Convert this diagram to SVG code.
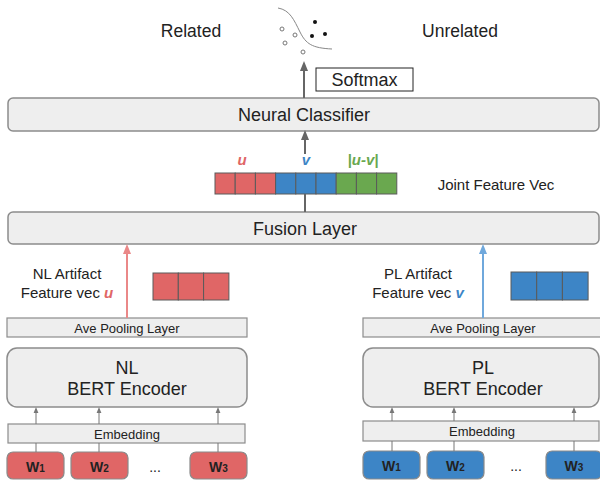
<svg xmlns="http://www.w3.org/2000/svg" width="600" height="485" viewBox="0 0 600 485">
<defs>
<style>
text{font-family:"Liberation Sans",Arial,sans-serif;fill:#222;}
.box{fill:#eeeeee;stroke:#8c8c8c;stroke-width:1.5;}
.thin{fill:#eeeeee;stroke:#8c8c8c;stroke-width:1.2;}
.t18{font-size:18px;text-anchor:middle;}
.t15{font-size:15px;text-anchor:middle;}
.t13{font-size:13px;text-anchor:middle;}
.red{fill:#e06666;stroke:#5a5a5a;stroke-width:1;}
.blue{fill:#3d85c6;stroke:#5a5a5a;stroke-width:1;}
.green{fill:#6aa84f;stroke:#5a5a5a;stroke-width:1;}
.wr{fill:#e06666;stroke:#8a8a8a;stroke-width:1.2;}
.wb{fill:#3d85c6;stroke:#8a8a8a;stroke-width:1.2;}
.w{font-size:14px;font-weight:bold;text-anchor:middle;fill:#222;}
.gray{stroke:#666;stroke-width:2;fill:none;}
.small{stroke:#777;stroke-width:1;fill:none;}
</style>
<marker id="ah" viewBox="0 0 10 10" refX="5" refY="5" markerWidth="5" markerHeight="5" orient="auto"><path d="M0,1 L10,5 L0,9 z" fill="#666"/></marker>
<marker id="ahs" viewBox="0 0 10 10" refX="5" refY="5" markerWidth="6" markerHeight="6" orient="auto"><path d="M0,1 L10,5 L0,9 z" fill="#777"/></marker>
<marker id="ahr" viewBox="0 0 10 10" refX="5" refY="5" markerWidth="5" markerHeight="5" orient="auto"><path d="M0,1 L10,5 L0,9 z" fill="#ea8888"/></marker>
<marker id="ahb" viewBox="0 0 10 10" refX="5" refY="5" markerWidth="5" markerHeight="5" orient="auto"><path d="M0,1 L10,5 L0,9 z" fill="#6fa8dc"/></marker>
</defs>
<rect width="600" height="485" fill="#ffffff"/>

<g id="output">
<text x="191" y="37" font-size="17.5" text-anchor="middle">Related</text>
<text x="460" y="37" font-size="17.5" text-anchor="middle">Unrelated</text>
<path d="M278,8 C290,10 294,20 300,32 C306,44 312,48 332,49" fill="none" stroke="#888" stroke-width="1"/>
<g fill="none" stroke="#777" stroke-width="1">
<circle cx="282" cy="29" r="2"/><circle cx="295" cy="35" r="2"/><circle cx="285" cy="43" r="2"/><circle cx="303" cy="52" r="2"/>
</g>
<g fill="#111">
<circle cx="315" cy="22" r="2"/><circle cx="312" cy="36" r="2"/><circle cx="325" cy="34" r="2"/>
</g>
</g>

<g id="softmax">
<rect x="316" y="68" width="97" height="23" fill="#fff" stroke="#222" stroke-width="1"/>
<text x="364.5" y="86" class="t18">Softmax</text>
</g>

<g id="neural-classifier">
<rect class="box" x="8" y="98" width="591" height="33" rx="5"/>
<text x="304" y="121" class="t18">Neural Classifier</text>
</g>

<g id="joint-vec">
<rect class="red" x="215" y="173" width="20.2" height="21"/>
<rect class="red" x="235.2" y="173" width="20.2" height="21"/>
<rect class="red" x="255.4" y="173" width="20.2" height="21"/>
<rect class="blue" x="275.6" y="173" width="20.2" height="21"/>
<rect class="blue" x="295.8" y="173" width="20.2" height="21"/>
<rect class="blue" x="316" y="173" width="20.2" height="21"/>
<rect class="green" x="336.2" y="173" width="20.2" height="21"/>
<rect class="green" x="356.4" y="173" width="20.2" height="21"/>
<rect class="green" x="376.6" y="173" width="20.2" height="21"/>
<text x="242" y="165" font-size="15" font-weight="bold" font-style="italic" text-anchor="middle" style="fill:#e06666">u</text>
<text x="306" y="165" font-size="15" font-weight="bold" font-style="italic" text-anchor="middle" style="fill:#3d85c6">v</text>
<text x="363" y="165" font-size="15" font-weight="bold" font-style="italic" text-anchor="middle" style="fill:#6aa84f">|u-v|</text>
<text x="496" y="190" class="t15">Joint Feature Vec</text>
</g>

<g id="fusion-layer">
<rect class="box" x="8" y="212" width="591" height="32" rx="5"/>
<text x="305" y="235" class="t18">Fusion Layer</text>
</g>

<g id="nl-feature">
<text x="67" y="279" class="t15">NL Artifact</text>
<text x="67" y="298" class="t15">Feature vec <tspan font-weight="bold" font-style="italic" style="fill:#e06666">u</tspan></text>
<rect class="red" x="153" y="273" width="25.3" height="27"/>
<rect class="red" x="178.3" y="273" width="25.3" height="27"/>
<rect class="red" x="203.6" y="273" width="25.3" height="27"/>
</g>

<g id="pl-feature">
<text x="418" y="279" class="t15">PL Artifact</text>
<text x="418" y="298" class="t15">Feature vec <tspan font-weight="bold" font-style="italic" style="fill:#3d85c6">v</tspan></text>
<rect class="blue" x="511" y="272" width="25.7" height="28"/>
<rect class="blue" x="536.7" y="272" width="25.7" height="28"/>
<rect class="blue" x="562.4" y="272" width="25.7" height="28"/>
</g>

<g id="nl-pooling">
<rect class="thin" x="7" y="318" width="240" height="19"/>
<text x="127" y="333" class="t13">Ave Pooling Layer</text>
</g>
<g id="pl-pooling">
<rect class="thin" x="363" y="318" width="240" height="19"/>
<text x="483" y="333" class="t13">Ave Pooling Layer</text>
</g>

<g id="nl-encoder">
<rect class="box" x="7" y="348" width="240" height="59" rx="10"/>
<text x="127" y="374" class="t18">NL</text>
<text x="127" y="395" class="t18">BERT Encoder</text>
</g>
<g id="pl-encoder">
<rect class="box" x="363" y="348" width="236" height="59" rx="10"/>
<text x="483" y="374" class="t18">PL</text>
<text x="483" y="395" class="t18">BERT Encoder</text>
</g>

<g id="nl-embedding">
<rect class="thin" x="8" y="424" width="237" height="19"/>
<text x="127" y="439" class="t13">Embedding</text>
</g>
<g id="pl-embedding">
<rect class="thin" x="363" y="421" width="236" height="20"/>
<text x="482" y="436" class="t13">Embedding</text>
</g>

<g id="nl-w1"><rect class="wr" x="7" y="452" width="57" height="27" rx="6"/><text x="35.5" y="472" class="w">W<tspan font-size="10">1</tspan></text></g>
<g id="nl-w2"><rect class="wr" x="71" y="452" width="57" height="27" rx="6"/><text x="99.5" y="472" class="w">W<tspan font-size="10">2</tspan></text></g>
<g id="nl-w3"><rect class="wr" x="190" y="452" width="57" height="27" rx="6"/><text x="218.5" y="472" class="w">W<tspan font-size="10">3</tspan></text></g>
<text x="155" y="472" font-size="14" text-anchor="middle">...</text>

<g id="pl-w1"><rect class="wb" x="363" y="451" width="57" height="28" rx="6"/><text x="391.5" y="471" class="w">W<tspan font-size="10">1</tspan></text></g>
<g id="pl-w2"><rect class="wb" x="427" y="451" width="57" height="28" rx="6"/><text x="455.5" y="471" class="w">W<tspan font-size="10">2</tspan></text></g>
<g id="pl-w3"><rect class="wb" x="546" y="451" width="56" height="28" rx="6"/><text x="574" y="471" class="w">W<tspan font-size="10">3</tspan></text></g>
<text x="516" y="471" font-size="14" text-anchor="middle">...</text>

<g id="connectors">
<line class="gray" x1="304" y1="98" x2="304" y2="66" marker-end="url(#ah)"/>
<line class="gray" x1="305" y1="154" x2="305" y2="135" marker-end="url(#ah)"/>
<line class="gray" x1="305" y1="212" x2="305" y2="194"/>
<line x1="127" y1="318" x2="127" y2="249" stroke="#ea8888" stroke-width="2" marker-end="url(#ahr)"/>
<line x1="483" y1="318" x2="483" y2="249" stroke="#6fa8dc" stroke-width="2" marker-end="url(#ahb)"/>
<line class="small" x1="36" y1="424" x2="36" y2="410" marker-end="url(#ahs)"/>
<line class="small" x1="99" y1="424" x2="99" y2="410" marker-end="url(#ahs)"/>
<line class="small" x1="218" y1="424" x2="218" y2="410" marker-end="url(#ahs)"/>
<line class="small" x1="36" y1="452" x2="36" y2="443"/>
<line class="small" x1="99" y1="452" x2="99" y2="443"/>
<line class="small" x1="218" y1="452" x2="218" y2="443"/>
<line class="small" x1="392" y1="421" x2="392" y2="410" marker-end="url(#ahs)"/>
<line class="small" x1="454" y1="421" x2="454" y2="410" marker-end="url(#ahs)"/>
<line class="small" x1="574" y1="421" x2="574" y2="410" marker-end="url(#ahs)"/>
<line class="small" x1="392" y1="451" x2="392" y2="441"/>
<line class="small" x1="454" y1="451" x2="454" y2="441"/>
<line class="small" x1="574" y1="451" x2="574" y2="441"/>
</g>
</svg>
